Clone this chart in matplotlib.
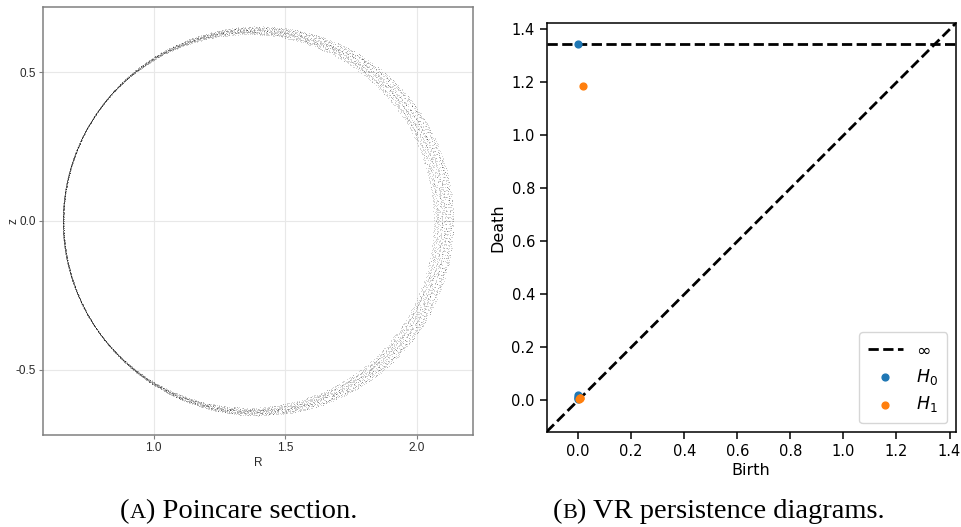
import numpy as np
import matplotlib
matplotlib.use("Agg")
import matplotlib.pyplot as plt

# --- Poincare section: nested strands of the field-line map ---
# R where each strand crosses z=0 on the inboard / outboard side, and its top z
strand_R_in = [0.653, 0.654, 0.655, 0.656, 0.657]
strand_R_out = [2.072, 2.088, 2.103, 2.118, 2.134]
strand_z_top = [0.632, 0.637, 0.641, 0.646, 0.651]
strand_spread = [0.007, 0.008, 0.008, 0.009, 0.006]
strand_iota = [0.381966, 0.414214, 0.366025, 0.318310, 0.447214]
strand_nu = [0.1273, 0.0931, 0.2114, 0.1571, 0.0713]
n_turns = 1800

# --- VR persistence diagrams ---
h0_birth = [0.0, 0.0, 0.0, 0.0, 0.0]
h0_death = [0.021, 0.014, 0.009, 0.005, np.inf]
h1_birth = [0.019, 0.003, 0.006, 0.008]
h1_death = [1.186, 0.005, 0.007, 0.010]

W, H = 961, 527
fig = plt.figure(figsize=(W / 100, H / 100), dpi=100)

# ---------------- (A) ----------------
axA = fig.add_axes([43 / W, 1 - 435 / H, 430 / W, 428 / H])
n = np.arange(n_turns)
for r_in, r_out, z_top, dw, iota, nu in zip(strand_R_in, strand_R_out, strand_z_top,
                                             strand_spread, strand_iota, strand_nu):
    theta = 2 * np.pi * iota * n
    wob = np.sin(2 * np.pi * nu * n * n)
    r_out_n = r_out + dw * wob
    z_top_n = z_top + 0.6 * dw * wob
    R = r_in + (r_out_n - r_in) * (1 + np.cos(theta)) / 2
    z = z_top_n * np.sin(theta)
    axA.scatter(R, z, s=0.6, c="k", alpha=0.2, linewidths=0, rasterized=True)

axA.margins(0.05)
axA.set_xticks([1.0, 1.5, 2.0])
axA.set_yticks([-0.5, 0.0, 0.5])
axA.set_xticklabels(["1.0", "1.5", "2.0"])
axA.set_yticklabels(["-0.5", "0.0", "0.5"])
axA.grid(True, color="#e8e8e8", lw=0.8)
axA.set_axisbelow(True)
for sp in axA.spines.values():
    sp.set_color("#808080")
    sp.set_linewidth(1.1)
axA.tick_params(direction="out", length=3, width=0.8, color="#808080",
                labelsize=8.5, labelcolor="#2a2a2a", pad=2)
for lab in axA.get_xticklabels() + axA.get_yticklabels():
    lab.set_family("Liberation Sans")
axA.set_xlabel("R", fontsize=8.5, family="Liberation Sans", color="#2a2a2a", labelpad=2)
axA.set_ylabel("z", fontsize=8.5, family="Liberation Sans", color="#2a2a2a")
axA.yaxis.set_label_coords(-0.055, 0.5)

# ---------------- (B) ----------------
axB = fig.add_axes([546.7 / W, 1 - 431.7 / H, 409 / W, 408.4 / H])
finite = np.array([v for v in h0_birth + h0_death + h1_birth + h1_death if np.isfinite(v)])
ax_min, ax_max = finite.min(), finite.max()
buffer = (ax_max - ax_min) / 5
x_down, x_up = ax_min - buffer / 2, ax_max + buffer
b_inf = x_down + (x_up - x_down) * 0.95

axB.plot([x_down, x_up], [x_down, x_up], "--", c="k", lw=2)
axB.plot([x_down, x_up], [b_inf, b_inf], "--", c="k", lw=2, label=r"$\infty$")
d0 = np.where(np.isfinite(h0_death), h0_death, b_inf)
axB.scatter(h0_birth, d0, s=24, color="#1f77b4", label="$H_0$", zorder=3)
axB.scatter(h1_birth, h1_death, s=24, color="#ff7f0e", label="$H_1$", zorder=3)
axB.set_xlim(x_down, x_up)
axB.set_ylim(x_down, x_up)
axB.set_xticks(np.arange(0, 1.41, 0.2))
axB.set_yticks(np.arange(0, 1.41, 0.2))
axB.tick_params(labelsize=10.5, length=5, width=1.1)
for sp in axB.spines.values():
    sp.set_linewidth(1.1)
axB.set_xlabel("Birth", fontsize=11.5, labelpad=3)
axB.set_ylabel("Death", fontsize=11.5, labelpad=4)
axB.legend(loc="lower right", fontsize=12.5, borderpad=0.5, handlelength=2.0,
           labelspacing=0.45)

# ---------------- captions ----------------
renderer = fig.canvas.get_renderer()


def caption(x_px, letter, rest, size=20.5):
    x = x_px / W
    y = 9 / H
    for txt, fs in [("(", size), (letter, size * 0.78), (")" + rest, size)]:
        t = fig.text(x, y, txt, fontsize=fs, family="Liberation Serif", va="baseline")
        x = t.get_window_extent(renderer).x1 / fig.bbox.width


caption(120, "A", " Poincare section.")
caption(553, "B", " VR persistence diagrams.")

fig.savefig("out.png", dpi=100)
